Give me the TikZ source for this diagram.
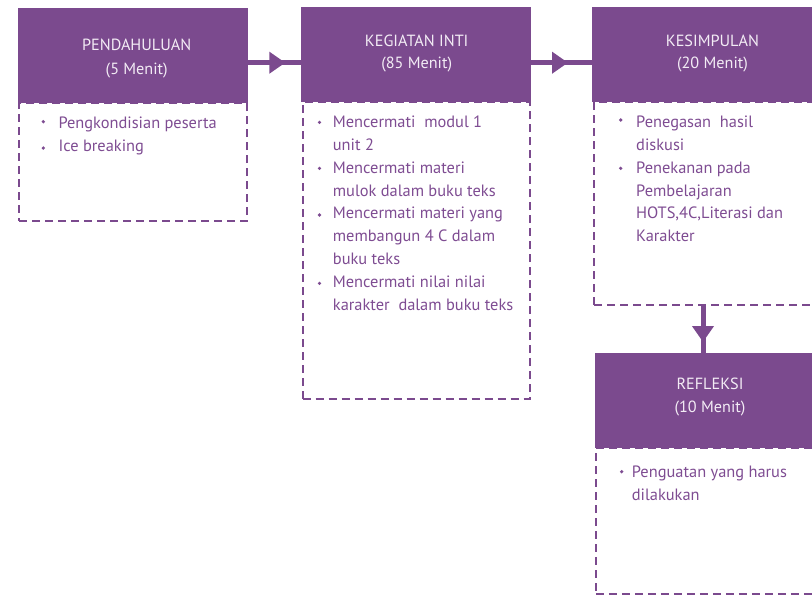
\documentclass[tikz,border=0pt]{standalone}
\usepackage{fontspec}
\setmainfont{PT Sans}
\usetikzlibrary{arrows.meta,decorations.markings}
\definecolor{purp}{HTML}{7B4A8E}
\definecolor{hdrtxt}{HTML}{F3ECF5}
\definecolor{bodytxt}{HTML}{7E4C92}
\tikzset{
  hdr/.style={fill=purp, draw=none, inner sep=0pt, outer sep=0pt, anchor=north west},
  bodybox/.style={draw=purp, line width=2pt, dash pattern=on 8pt off 5pt, inner sep=0pt, outer sep=0pt, anchor=north west},
  htxt/.style={text=hdrtxt, font=\fontsize{16.2pt}{19pt}\selectfont, inner sep=0pt, anchor=base},
  ltxt/.style={text=bodytxt, font=\fontsize{16.4pt}{19pt}\selectfont, inner sep=0pt, anchor=base west},
  bul/.style={circle, fill=bodytxt, inner sep=0pt, minimum size=3.6pt},
  conn/.style={draw=purp, line width=5pt, postaction={decorate},
    decoration={markings, mark=at position 37pt with {\arrow{Triangle[length=16pt,width=21pt]}}}}
}
\begin{document}
\begin{tikzpicture}[x=1pt,y=-1pt]
\useasboundingbox (0,0) rectangle (812,595);
\clip (0,0) rectangle (812,595);
% bodies
\node[bodybox, minimum width=228pt, minimum height=118pt] (b1) at (19.3,103) {};
\node[bodybox, minimum width=227pt, minimum height=297pt] (b2) at (302.7,102) {};
\node[bodybox, minimum width=230pt, minimum height=203pt] (b3) at (594,102) {};
\node[bodybox, minimum width=230pt, minimum height=146pt] (b4) at (595.8,448) {};
% headers
\node[hdr, minimum width=230pt, minimum height=95pt] (h1) at (18.3,8.3) {};
\node[hdr, minimum width=230pt, minimum height=94.5pt] (h2) at (301,7.3) {};
\node[hdr, minimum width=230pt, minimum height=94.5pt] (h3) at (592.3,7.3) {};
\node[hdr, minimum width=230pt, minimum height=95pt] (h4) at (595,353.3) {};
% header texts
\node[htxt] (h1a) at (136.7,50) {PENDAHULUAN};
\node[htxt] (h1b) at (136.7,74) {(5 Menit)};
\node[htxt] (h2a) at (416.7,46) {KEGIATAN INTI};
\node[htxt] (h2b) at (416.7,68.3) {(85 Menit)};
\node[htxt] (h3a) at (712.5,46) {KESIMPULAN};
\node[htxt] (h3b) at (712.5,68.3) {(20 Menit)};
\node[htxt] (h4a) at (710,389.3) {REFLEKSI};
\node[htxt] (h4b) at (710,412.7) {(10 Menit)};
% connectors
\coordinate (row) at (0,62.7);
\coordinate (col) at (703,0);
\draw[conn] (h1.east |- row) -- (h2.west |- row);
\draw[conn] (h2.east |- row) -- (h3.west |- row);
\draw[conn] (b3.south -| col) -- (h4.north -| col);
% box 1 items
\node[bul] (d1a) at (43.3,121.7) {};
\node[bul] (d1b) at (43.3,148) {};
\foreach \t [count=\i from 0] in {Pengkondisian peserta, Ice breaking}
  \node[ltxt] (l1-\i) at (58.3,128.5+22.8*\i) {\t};
% box 2 items
\node[bul] (d2a) at (319.5,122.3) {};
\node[bul] (d2b) at (319.5,168.3) {};
\node[bul] (d2c) at (319.5,215) {};
\node[bul] (d2d) at (319.5,283.3) {};
\foreach \t [count=\i from 0] in {Mencermati\ \ modul 1, unit 2, Mencermati materi, mulok dalam buku teks, Mencermati materi yang, membangun 4 C dalam, buku teks, Mencermati nilai nilai, karakter\ \ dalam buku teks}
  \node[ltxt] (l2-\i) at (332.7,127.7+22.8*\i) {\t};
% box 3 items
\node[bul] (d3a) at (620.7,120) {};
\node[bul] (d3b) at (620.7,168.3) {};
\foreach \t [count=\i from 0] in {Penegasan\ \ hasil, diskusi, Penekanan pada, Pembelajaran, {HOTS,4C,Literasi dan}, Karakter}
  \node[ltxt] (l3-\i) at (636,127.7+22.8*\i) {\t};
% box 4 items
\node[bul] (d4a) at (621.7,471.7) {};
\foreach \t [count=\i from 0] in {Penguatan yang harus, dilakukan}
  \node[ltxt] (l4-\i) at (631.7,477.7+22.3*\i) {\t};
\end{tikzpicture}
\end{document}
